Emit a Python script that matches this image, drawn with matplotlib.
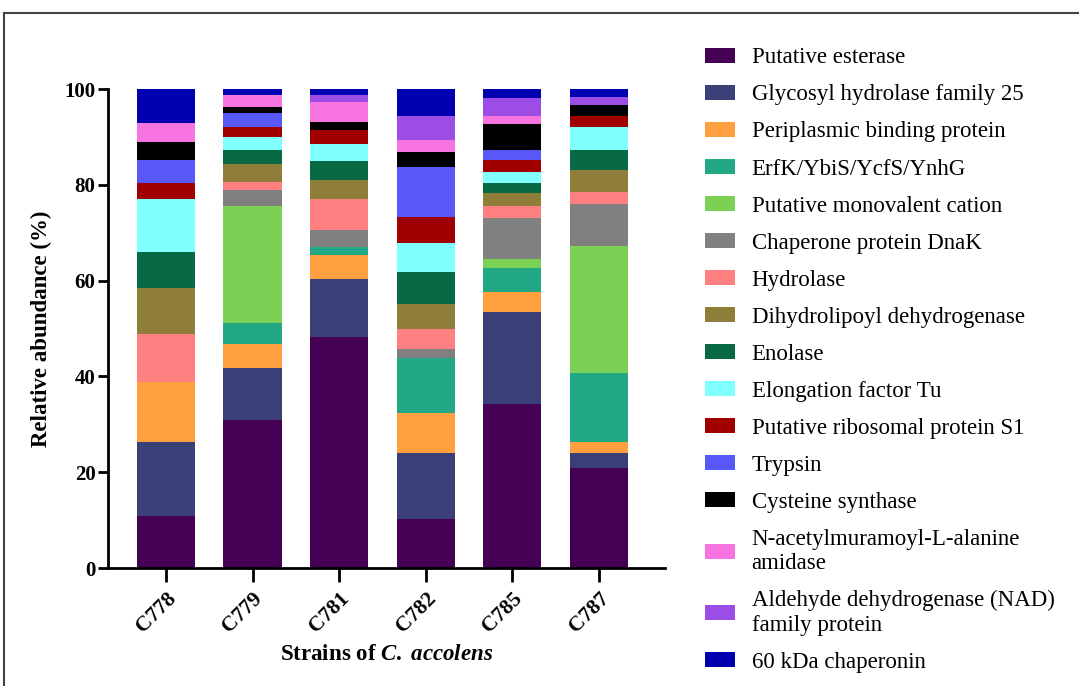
import matplotlib
matplotlib.use("Agg")
import matplotlib.pyplot as plt
import numpy as np
from matplotlib.lines import Line2D

plt.rcParams["font.family"] = ["Liberation Serif", "DejaVu Serif"]
plt.rcParams["mathtext.fontset"] = "custom"
plt.rcParams["mathtext.it"] = "Liberation Serif:italic:bold"
plt.rcParams["mathtext.rm"] = "Liberation Serif:bold"

strains = ["C778", "C779", "C781", "C782", "C785", "C787"]

proteins = ["Putative esterase", "Glycosyl hydrolase family 25", "Periplasmic binding protein",
            "ErfK/YbiS/YcfS/YnhG", "Putative monovalent cation", "Chaperone protein DnaK",
            "Hydrolase", "Dihydrolipoyl dehydrogenase", "Enolase", "Elongation factor Tu",
            "Putative ribosomal protein S1", "Trypsin", "Cysteine synthase",
            "N-acetylmuramoyl-L-alanine\namidase", "Aldehyde dehydrogenase (NAD)\nfamily protein",
            "60 kDa chaperonin"]

colors = ["#440154", "#3a3f78", "#ffa040", "#22a884", "#7bd153", "#808080",
          "#ff8080", "#8f7e3a", "#076a45", "#80ffff", "#a00000", "#5858fa",
          "#000000", "#f874e0", "#9b4de6", "#0000b0"]

# relative abundance (%) per strain, one entry per protein (bottom to top)
c778 = [10.8, 15.6, 12.5, 0, 0, 0, 9.9, 9.7, 7.5, 11.1, 3.4, 4.8, 3.6, 4.1, 0, 7.0]
c779 = [31.0, 10.7, 5.0, 4.4, 24.6, 3.3, 1.7, 3.6, 3.1, 2.7, 2.1, 2.8, 1.2, 2.5, 0, 1.3]
c781 = [48.2, 12.1, 5.1, 1.6, 0, 3.6, 6.5, 4.0, 3.8, 3.6, 2.9, 0, 1.7, 4.2, 1.4, 1.3]
c782 = [10.2, 13.9, 8.3, 11.4, 0, 1.9, 4.2, 5.2, 6.7, 6.1, 5.5, 10.4, 3.0, 2.5, 5.0, 5.7]
c785 = [34.3, 19.1, 4.2, 5.1, 1.8, 8.6, 2.6, 2.7, 2.1, 2.1, 2.7, 1.9, 5.5, 1.8, 3.6, 1.9]
c787 = [20.9, 3.2, 2.3, 14.4, 26.5, 8.8, 2.5, 4.6, 4.0, 5.0, 2.3, 0, 2.1, 0, 1.7, 1.7]

data = np.array([c778, c779, c781, c782, c785, c787]).T

fig = plt.figure(figsize=(10.79, 6.86), dpi=100)
ax = fig.add_axes([0.100, 0.172, 0.516, 0.698])

x = np.arange(len(strains))
bottom = np.zeros(len(strains))
handles = []
for i, name in enumerate(proteins):
    b = ax.bar(x, data[i], 0.67, bottom=bottom, color=colors[i], label=name, linewidth=0)
    handles.append(b)
    bottom += data[i]

ax.set_xlim(-0.67, 5.76)
ax.set_ylim(0, 100)
ax.set_yticks([0, 20, 40, 60, 80, 100])
ax.set_xticks(x)
ax.set_xticklabels(strains, rotation=45, ha="right", rotation_mode="anchor",
                   fontsize=15.5, fontweight="bold")
for lab in ax.get_yticklabels():
    lab.set_fontweight("bold")
ax.tick_params(axis="y", labelsize=15, width=2, length=7, pad=2)
ax.tick_params(axis="x", width=2, length=10, pad=5)
for s in ["top", "right"]:
    ax.spines[s].set_visible(False)
for s in ["left", "bottom"]:
    ax.spines[s].set_linewidth(2)

ax.set_ylabel("Relative abundance (%)", fontsize=16.5, fontweight="bold", labelpad=9)
ax.set_xlabel(r"Strains of $C.$ $accolens$", fontsize=16.5, fontweight="bold", labelpad=5)

fig.legend(handles=handles, labels=proteins, loc="upper left",
           bbox_to_anchor=(0.634, 0.961), frameon=False, fontsize=16.5,
           handlelength=1.31, handleheight=0.61, labelspacing=0.70, handletextpad=0.74)

# outer frame
fig.add_artist(Line2D([0.004, 1.0], [1 - 13 / 686, 1 - 13 / 686], color="#444444", lw=1.5))
fig.add_artist(Line2D([0.004, 0.004], [0, 1 - 13 / 686], color="#444444", lw=1.5))

fig.savefig("out.png", dpi=100)
